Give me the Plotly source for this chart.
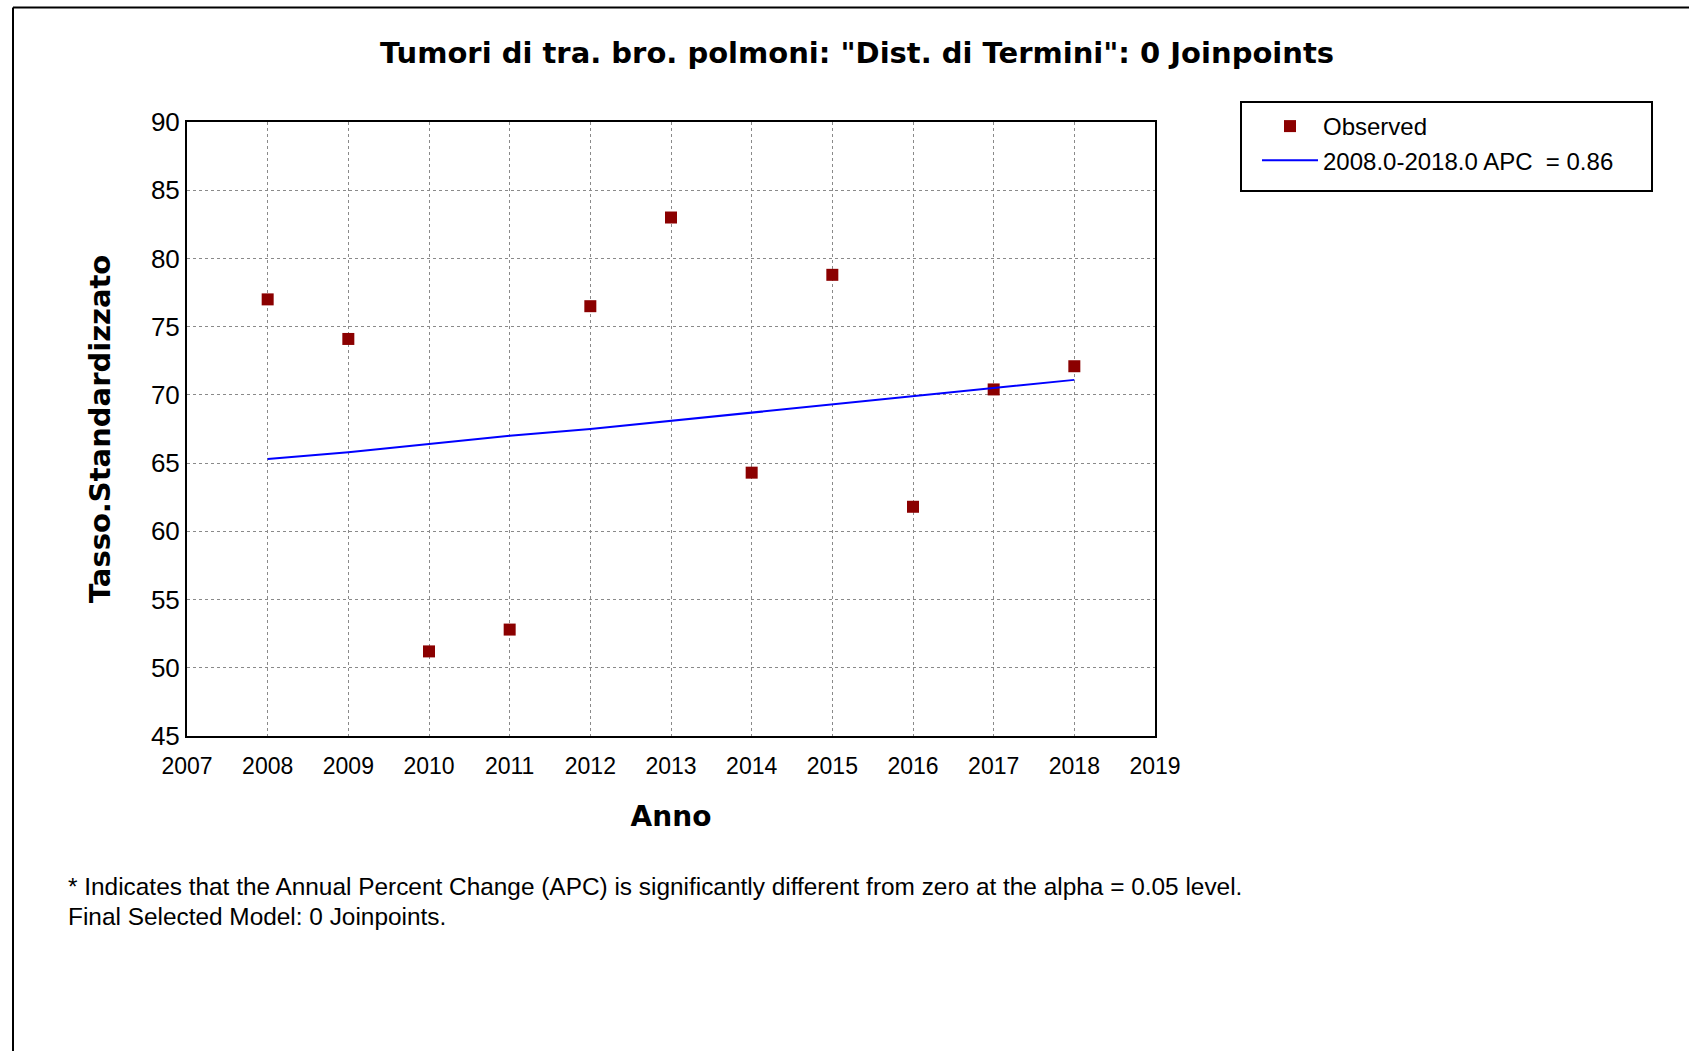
import plotly.graph_objects as go

# ---- data ----
anni = [2008, 2009, 2010, 2011, 2012, 2013, 2014, 2015, 2016, 2017, 2018]
osservati = [77.0, 74.1, 51.2, 52.8, 76.5, 83.0, 64.3, 78.8, 61.8, 70.4, 72.1]
modello = [65.3, 65.8, 66.4, 67.0, 67.5, 68.1, 68.7, 69.3, 69.9, 70.5, 71.1]
x_ticks = list(range(2007, 2020))
y_ticks = list(range(45, 95, 5))

titolo = 'Tumori di tra. bro. polmoni: "Dist. di Termini": 0 Joinpoints'
nome_oss = "Observed"
nome_mod = "2008.0-2018.0 APC  = 0.86"
nota1 = "* Indicates that the Annual Percent Change (APC) is significantly different from zero at the alpha = 0.05 level."
nota2 = "Final Selected Model: 0 Joinpoints."

W, H = 1689, 1051
L, R, T, B = 187, 1155, 122, 736

fig = go.Figure()
fig.add_trace(go.Scatter(
    x=anni, y=osservati, mode="markers", name=nome_oss,
    marker=dict(symbol="square", size=12, color="#8B0000"),
))
fig.add_trace(go.Scatter(
    x=anni, y=modello, mode="lines", name=nome_mod,
    line=dict(color="#0000FF", width=2),
))

def px_x(p):
    return (p - L) / (R - L)

def px_y(p):
    return (B - p) / (B - T)

sans = "Liberation Sans, Arial, sans-serif"

fig.update_layout(
    width=W, height=H,
    margin=dict(l=L, r=W - R, t=T, b=H - B, pad=0),
    paper_bgcolor="white", plot_bgcolor="white",
    showlegend=True,
    legend=dict(
        x=px_x(1257), y=px_y(104), xanchor="left", yanchor="top",
        bgcolor="rgba(0,0,0,0)", borderwidth=0,
        font=dict(family=sans, size=24, color="black"),
        itemwidth=56, tracegroupgap=0,
    ),
    title=dict(
        text="<b>" + titolo + "</b>", x=857 / W, xanchor="center", xref="container",
        y=1 - 53 / H, yanchor="middle",
        font=dict(family="DejaVu Sans", size=29, color="black"),
    ),
    xaxis=dict(
        range=[2007, 2019], tickvals=x_ticks, ticktext=[str(v) for v in x_ticks],
        showgrid=True, gridcolor="#8a8a8a", griddash="dot", gridwidth=1,
        showline=True, linecolor="black", linewidth=2, mirror=True,
        ticks="", zeroline=False, ticklabelstandoff=8,
        tickfont=dict(family=sans, size=23, color="black"),
        title=dict(text="<b>Anno</b>", font=dict(family="DejaVu Sans", size=28, color="black"), standoff=29),
    ),
    yaxis=dict(
        range=[45, 90], tickvals=y_ticks, ticktext=[str(v) for v in y_ticks],
        showgrid=True, gridcolor="#8a8a8a", griddash="dot", gridwidth=1,
        showline=True, linecolor="black", linewidth=2, mirror=True,
        ticks="", zeroline=False,
        tickfont=dict(family=sans, size=26, color="black"),
        title=dict(text="<b>Tasso.Standardizzato</b>", font=dict(family="DejaVu Sans", size=29, color="black"), standoff=32),
    ),
)

# outer frame of the image (left and top edges visible)
fig.add_shape(type="line", xref="paper", yref="paper",
              x0=px_x(13), x1=px_x(13), y0=px_y(7.5), y1=px_y(1100),
              line=dict(color="black", width=2))
fig.add_shape(type="line", xref="paper", yref="paper",
              x0=px_x(13), x1=px_x(1700), y0=px_y(7.5), y1=px_y(7.5),
              line=dict(color="black", width=2))
# legend frame
fig.add_shape(type="rect", xref="paper", yref="paper",
              x0=px_x(1241), x1=px_x(1652), y0=px_y(102), y1=px_y(191),
              line=dict(color="black", width=2), fillcolor="rgba(0,0,0,0)")

# footnotes
fig.add_annotation(text=nota1, xref="paper", yref="paper",
                   x=px_x(66), y=px_y(887), xanchor="left", yanchor="middle",
                   showarrow=False, font=dict(family=sans, size=24.4, color="black"))
fig.add_annotation(text=nota2, xref="paper", yref="paper",
                   x=px_x(66), y=px_y(916), xanchor="left", yanchor="middle",
                   showarrow=False, font=dict(family=sans, size=24.4, color="black"))

fig.write_html("out.html", config={"displayModeBar": False},
               post_script="document.body.style.margin='0';")
